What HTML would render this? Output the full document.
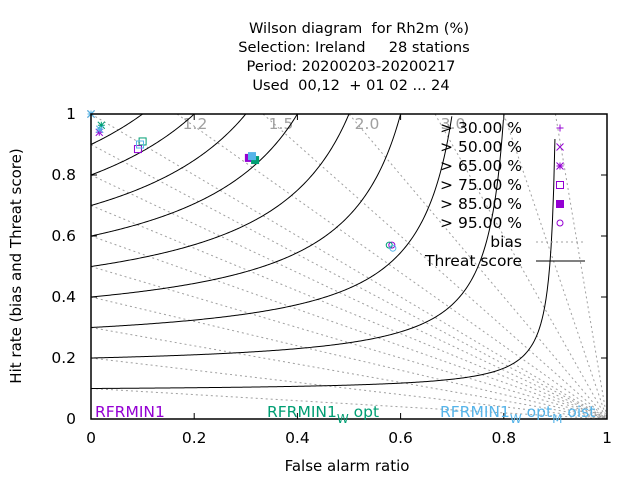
<!DOCTYPE html>
<html><head><meta charset="utf-8"><style>
body{margin:0;background:#fff}
svg{display:block;font-family:"DejaVu Sans","Liberation Sans",sans-serif}
</style></head><body>
<svg id="c" width="640" height="480" viewBox="0 0 640 480">
<g font-size="14.6" text-anchor="middle" fill="#000">
<text x="359" y="33" xml:space="preserve">Wilson diagram  for Rh2m (%)</text>
<text x="354" y="52" xml:space="preserve">Selection: Ireland     28 stations</text>
<text x="351" y="71">Period: 20200203-20200217</text>
<text x="351" y="90" xml:space="preserve">Used  00,12  + 01 02 ... 24</text>
</g>
<text x="347" y="471" font-size="15" text-anchor="middle">False alarm ratio</text>
<text transform="translate(21,266) rotate(-90)" font-size="15" text-anchor="middle">Hit rate (bias and Threat score)</text>
<g id="grid"></g><g id="ts"></g><g id="ticks"></g><g id="pts"></g>
<rect x="91" y="114" width="516" height="305" fill="none" stroke="#000" stroke-width="1.5"/>
<g id="legend" font-size="15.5" text-anchor="end"></g>
<g font-size="15.5">
<text x="95" y="417" fill="#9400d3">RFRMIN1</text>
<text x="267" y="417" fill="#009e73">RFRMIN1<tspan dy="6" font-size="12">W</tspan><tspan dy="-6"> opt</tspan></text>
<text x="440" y="417" fill="#56b4e9">RFRMIN1<tspan dy="6" font-size="12">W</tspan><tspan dy="-6"> opt</tspan><tspan dy="6" font-size="12">M</tspan><tspan dy="-6"> oist</tspan></text>
</g>
</svg>
<script>
const biasValues=[0.1,0.2,0.3,0.4,0.5,0.6,0.7,0.8,0.9,1.0,1.2,1.5,2.0,3.0,5.0,10.0];
const biasLabels=[1.2,1.5,2.0,3.0];
const tsLevels=[0.1,0.2,0.3,0.4,0.5,0.6,0.7,0.8,0.9];
const xTicks=[0,0.2,0.4,0.6,0.8,1];
const yTicks=[0,0.2,0.4,0.6,0.8,1];
const thresholds=["> 30.00 %","> 50.00 %","> 65.00 %","> 75.00 %","> 85.00 %","> 95.00 %"];
const seriesColors=["#9400d3","#009e73","#56b4e9"];
const farRF=[0.0,0.0,0.016,0.091,0.306,0.583];
const podRF=[1.0,1.0,0.94,0.885,0.856,0.57];
const farW=[0.0,0.0,0.02,0.10,0.318,0.578];
const podW=[1.0,1.0,0.963,0.91,0.849,0.57];
const farWM=[0.0,0.0,0.017,0.095,0.312,0.585];
const podWM=[1.0,1.0,0.95,0.90,0.862,0.56];
const NS="http://www.w3.org/2000/svg";
const X=v=>91+v*516, Y=v=>419-v*305;
function mk(t,a,p){const e=document.createElementNS(NS,t);for(const k in a)e.setAttribute(k,a[k]);p.appendChild(e);return e;}
const grid=document.getElementById('grid');
biasValues.forEach(b=>{
  let x0,y0;
  if(b<=1){x0=0;y0=b;}else{x0=1-1/b;y0=1;}
  const l=mk('line',{x1:X(x0),y1:Y(y0),x2:X(1),y2:Y(0),stroke:'#a0a0a0','stroke-width':1,'stroke-dasharray':'2,3'},grid);
  
  
});
biasLabels.forEach(b=>{
  const t=mk('text',{x:X(1-1/b)+18,y:Y(1)+15,'font-size':15.5,fill:'#a0a0a0','text-anchor':'middle'},grid);
  t.textContent=b.toFixed(1);
  
  
});
const tsg=document.getElementById('ts');
tsLevels.forEach(T=>{
  let d='';
  for(let i=0;i<=400;i++){
    const f=i/400*0.999;
    const inv=1/T+1-1/(1-f);
    if(inv<=1) continue;
    const pod=1/inv;
    if(pod>1)continue;
    d+=(d?'L':'M')+X(f).toFixed(2)+','+Y(pod).toFixed(2);
  }
  const p=mk('path',{d:d,fill:'none',stroke:'#000','stroke-width':1},tsg);
  
  
});
const tk=document.getElementById('ticks');
xTicks.forEach(v=>{
  mk('line',{x1:X(v),y1:419,x2:X(v),y2:413,stroke:'#000'},tk);
  mk('line',{x1:X(v),y1:114,x2:X(v),y2:120,stroke:'#000'},tk);
  const t=mk('text',{x:X(v),y:443,'font-size':15.5,'text-anchor':'middle'},tk);
  t.textContent=String(v);
  
  
});
yTicks.forEach(v=>{
  mk('line',{x1:91,y1:Y(v),x2:97,y2:Y(v),stroke:'#000'},tk);
  mk('line',{x1:607,y1:Y(v),x2:601,y2:Y(v),stroke:'#000'},tk);
  const t=mk('text',{x:76,y:Y(v)+5,'font-size':15.5,'text-anchor':'end'},tk);
  t.textContent=String(v);
  
  
});
function sym(i,x,y,c,p){
  const g=mk('g',{stroke:c,fill:'none','stroke-width':1},p);
  const s=3.5;
  if(i===0){mk('path',{d:`M${x-s},${y}H${x+s}M${x},${y-s}V${y+s}`},g);}
  else if(i===1){mk('path',{d:`M${x-s},${y-s}L${x+s},${y+s}M${x-s},${y+s}L${x+s},${y-s}`},g);}
  else if(i===2){mk('path',{d:`M${x-s},${y}H${x+s}M${x},${y-s}V${y+s}M${x-s},${y-s}L${x+s},${y+s}M${x-s},${y+s}L${x+s},${y-s}`},g);}
  else if(i===3){mk('rect',{x:x-s,y:y-s,width:2*s,height:2*s},g);}
  else if(i===4){mk('rect',{x:x-s,y:y-s,width:2*s,height:2*s,fill:c},g);}
  else {mk('circle',{cx:x,cy:y,r:3},g);}
  return g;
}
const pts=document.getElementById('pts');
const sers=[[farRF,podRF],[farW,podW],[farWM,podWM]];
sers.forEach((s,si)=>{
  s[0].forEach((f,i)=>{
    const g=sym(i,X(f),Y(s[1][i]),seriesColors[si],pts);
    
    
  });
});
const lg=document.getElementById('legend');
thresholds.forEach((t,i)=>{
  const y=128+i*19;
  const tx=mk('text',{x:522,y:y+5},lg);
  tx.textContent=t;
  
  
  sym(i,560,y,'#9400d3',lg);
});
const bt=mk('text',{x:522,y:247},lg);bt.textContent='bias';


mk('line',{x1:536,y1:242,x2:583,y2:242,stroke:'#a0a0a0','stroke-dasharray':'2,3'},lg);
const tt=mk('text',{x:522,y:266},lg);tt.textContent='Threat score';


mk('line',{x1:536,y1:261,x2:585,y2:261,stroke:'#000'},lg);
</script>
</body></html>
